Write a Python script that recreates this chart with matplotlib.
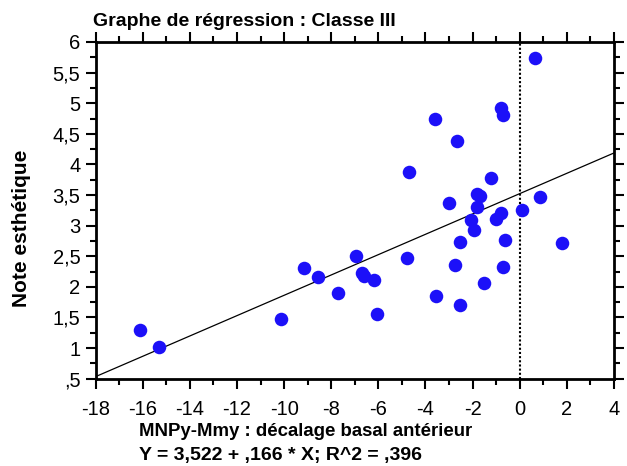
import matplotlib
matplotlib.use("Agg")
import matplotlib.pyplot as plt
from matplotlib.ticker import MultipleLocator, FuncFormatter

# data
x_vals = [-16.1, -15.3, -10.15, -9.15, -8.55, -7.7, -6.95, -6.7, -6.6, -6.2, -6.05,
          -4.8, -4.7, -3.6, -3.55, -3.0, -2.75, -2.65, -2.55, -2.55, -2.05, -1.95,
          -1.8, -1.8, -1.7, -1.5, -1.2, -1.0, -0.8, -0.8, -0.7, -0.7, -0.6, 0.1,
          0.65, 0.85, 1.8]
y_vals = [1.3, 1.02, 1.47, 2.3, 2.16, 1.9, 2.5, 2.22, 2.17, 2.11, 1.56,
          2.47, 3.88, 4.74, 1.85, 3.37, 2.36, 4.39, 2.73, 1.7, 3.09, 2.93,
          3.51, 3.31, 3.48, 2.07, 3.77, 3.11, 3.2, 4.92, 2.33, 4.8, 2.76, 3.25,
          5.74, 3.46, 2.71]

intercept = 3.522
slope = 0.166
r2 = 0.396

x_lim = (-18, 4)
y_lim = (0.5, 6)

plt.rcParams['font.family'] = ['Liberation Sans', 'DejaVu Sans']

fig = plt.figure(figsize=(6.27, 4.66), dpi=100)
ax = fig.add_axes([0.1526, 0.1874, 0.8264, 0.7225])

ax.scatter(x_vals, y_vals, s=95, color='#1c10f8', zorder=3, linewidths=0)

# regression line
ax.plot(x_lim, [intercept + slope * x_lim[0], intercept + slope * x_lim[1]],
        color='black', lw=0.9, zorder=2)
ax.axvline(0, color='black', lw=1.5, ls=(0, (1, 1)), zorder=1)

ax.set_xlim(*x_lim)
ax.set_ylim(*y_lim)

ax.xaxis.set_major_locator(MultipleLocator(2))
ax.xaxis.set_minor_locator(MultipleLocator(1))
ax.yaxis.set_major_locator(MultipleLocator(0.5))
ax.yaxis.set_minor_locator(MultipleLocator(0.25))


def fr_fmt(v, pos):
    s = ('%g' % v).replace('.', ',')
    if s.startswith('0,'):
        s = s[1:]
    return s


ax.yaxis.set_major_formatter(FuncFormatter(fr_fmt))
ax.xaxis.set_major_formatter(FuncFormatter(lambda v, p: '%d' % v))

ax.tick_params(which='both', direction='out', top=True, right=True, width=1.5)
ax.tick_params(which='major', length=7, labelsize=14.5)
ax.tick_params(which='minor', length=4)
ax.tick_params(axis='x', which='major', pad=8)
ax.tick_params(axis='y', which='major', pad=4)
ax.tick_params(labeltop=False, labelright=False)

for sp in ax.spines.values():
    sp.set_linewidth(2)

fig.text(0.1483, 0.944, 'Graphe de régression : Classe III', fontsize=14,
         fontweight='bold', va='baseline', ha='left')
fig.text(0.034, 0.511, 'Note esthétique', fontsize=15, fontweight='bold',
         rotation=90, va='center', ha='center')
fig.text(0.2217, 0.0644, 'MNPy-Mmy : décalage basal antérieur', fontsize=13.4,
         fontweight='bold', va='baseline', ha='left')
eq = 'Y = %s + %s * X; R^2 = %s' % (fr_fmt(intercept, 0), fr_fmt(slope, 0), fr_fmt(r2, 0))
fig.text(0.2217, 0.0129, eq, fontsize=14, fontweight='bold', va='baseline', ha='left')

fig.savefig('out.png', dpi=100)
